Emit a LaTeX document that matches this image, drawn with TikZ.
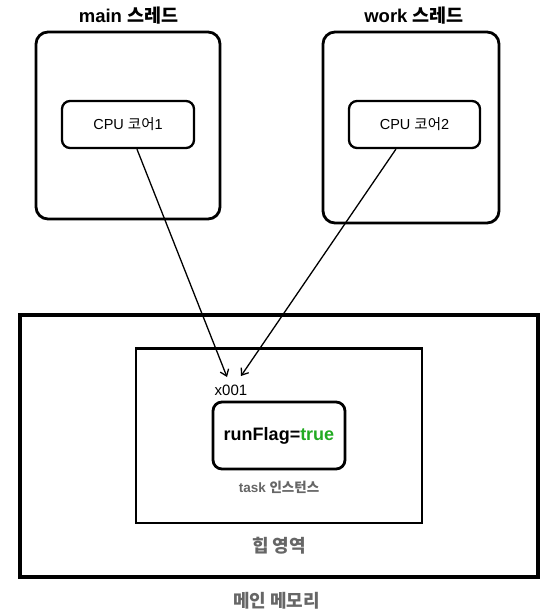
\documentclass[tikz,border=0pt]{standalone}
\usepackage{fontspec}
\usetikzlibrary{arrows.meta}
\setmainfont{Liberation Sans}
\newfontfamily\kr{Noto Sans CJK KR}
\definecolor{labelgray}{HTML}{666666}
\definecolor{truegreen}{HTML}{22AA22}
\begin{document}
\begin{tikzpicture}[x=1pt, y=-1pt, >={Straight Barb[length=6pt, width=9pt]},
        thread/.style={draw, rounded corners=12pt, line width=2.8pt},
        core/.style={draw, rounded corners=8pt, line width=2.3pt, font=\fontsize{14.5}{16}\selectfont},
        area/.style={draw, line width=2.3pt},
        title/.style={inner sep=0pt, font=\fontsize{18.5}{20}\selectfont\bfseries},
        caption/.style={inner sep=0pt, text=labelgray, font=\fontsize{18}{20}\selectfont\bfseries}]
        \useasboundingbox (0, 0) rectangle (551, 614);
        \node[thread, minimum width=184, minimum height=187] (mainbox) at (128, 125.5) {};
        \node[thread, minimum width=176, minimum height=191] (workbox) at (411, 127.5) {};
        \node[title] (maintitle) at (128.5, 16) {main {\kr 스레드}};
        \node[title] (worktitle) at (414, 16) {work {\kr 스레드}};
        \node[core, minimum width=132, minimum height=47] (cpu1) at (128, 124.5) {CPU {\kr 코어}1};
        \node[core, minimum width=131, minimum height=47] (cpu2) at (414.5, 124.5) {CPU {\kr 코어}2};
        \node[area, line width=3.6pt, minimum width=518, minimum height=262] (mem) at (279, 446) {};
        \node[area, minimum width=286, minimum height=174.5] (heap) at (279, 435.75) {};
        \node[thread, rounded corners=9pt, minimum width=132, minimum height=67,
            font=\fontsize{18}{20}\selectfont\bfseries] (flag) at (279, 435.5) {runFlag=\textcolor{truegreen}{true}};
        \node[inner sep=0pt, font=\fontsize{15}{17}\selectfont] (addr) at (231, 390) {x001};
        \node[caption, font=\fontsize{13.5}{15}\selectfont\bfseries] (task) at (279, 487) {task {\kr 인스턴스}};
        \node[caption] (heaplabel) at (279, 546) {\kr 힙 영역};
        \node[caption] (memlabel) at (276.5, 601) {\kr 메인 메모리};
        \coordinate (tip1) at (227, 377);
        \coordinate (tip2) at (241, 376);
        \draw[->, line width=1.3pt] (cpu1.290) -- (tip1);
        \draw[->, line width=1.3pt] (cpu2.233) -- (tip2);
    \end{tikzpicture}
\end{document}
